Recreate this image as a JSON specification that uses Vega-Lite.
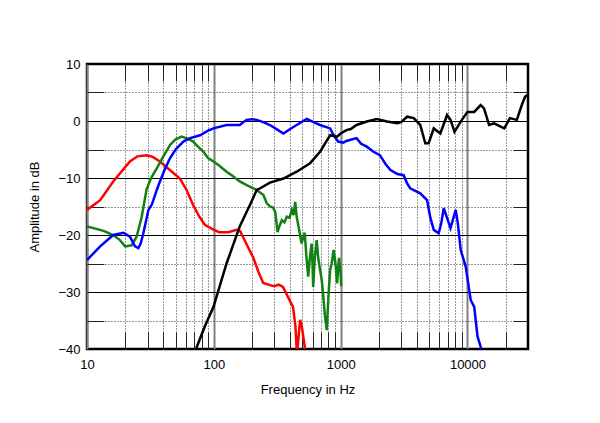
{
  "$schema": "https://vega.github.io/schema/vega-lite/v6.json",
  "width": 441,
  "height": 285,
  "autosize": {"type": "none"},
  "padding": {"left": 87, "top": 64, "right": 72, "bottom": 74},
  "background": "white",
  "config": {
    "view": {"stroke": "black", "strokeWidth": 2.5},
    "font": "Liberation Sans",
    "axis": {"labelFont": "Liberation Sans", "titleFont": "Liberation Sans", "labelFontSize": 13, "titleFontSize": 13, "labelColor": "black", "titleColor": "black", "titleFontWeight": "normal", "labelFlush": false, "labelOverlap": false}
  },
  "data": {"values": [
    {"s":"red","f":10,"db":-15.6},{"s":"red","f":12.7,"db":-13.9},{"s":"red","f":16.1,"db":-10.6},{"s":"red","f":21.8,"db":-7.1},{"s":"red","f":25,"db":-6.2},{"s":"red","f":29.6,"db":-6.0},{"s":"red","f":33,"db":-6.3},{"s":"red","f":37.6,"db":-7.1},{"s":"red","f":45,"db":-8.6},{"s":"red","f":54,"db":-10.1},{"s":"red","f":61,"db":-12.1},{"s":"red","f":68.5,"db":-14.7},{"s":"red","f":77,"db":-16.8},{"s":"red","f":85,"db":-18.2},{"s":"red","f":100,"db":-19.1},{"s":"red","f":110,"db":-19.5},{"s":"red","f":130,"db":-19.5},{"s":"red","f":151,"db":-19.1},{"s":"red","f":161,"db":-19.3},{"s":"red","f":180,"db":-21.5},{"s":"red","f":204,"db":-23.9},{"s":"red","f":225,"db":-26.5},{"s":"red","f":245,"db":-28.4},{"s":"red","f":277,"db":-28.8},{"s":"red","f":300,"db":-29.0},{"s":"red","f":325,"db":-28.7},{"s":"red","f":351,"db":-29.1},{"s":"red","f":385,"db":-30.9},{"s":"red","f":421,"db":-32.6},{"s":"red","f":440,"db":-36},{"s":"red","f":452,"db":-41},{"s":"red","f":465,"db":-38},{"s":"red","f":479,"db":-34.9},{"s":"red","f":490,"db":-35.5},{"s":"red","f":521,"db":-39.6},{"s":"red","f":535,"db":-42},
    {"s":"green","f":10,"db":-18.5},{"s":"green","f":12.7,"db":-19.1},{"s":"green","f":14,"db":-19.4},{"s":"green","f":16,"db":-20},{"s":"green","f":18,"db":-20.8},{"s":"green","f":20,"db":-22},{"s":"green","f":22.5,"db":-21.8},{"s":"green","f":24.6,"db":-20.3},{"s":"green","f":27,"db":-16.8},{"s":"green","f":29.5,"db":-12},{"s":"green","f":32,"db":-10},{"s":"green","f":35.5,"db":-8.3},{"s":"green","f":40,"db":-6.2},{"s":"green","f":45.2,"db":-4.2},{"s":"green","f":50,"db":-3.2},{"s":"green","f":55.7,"db":-2.75},{"s":"green","f":62,"db":-3.1},{"s":"green","f":68.7,"db":-3.6},{"s":"green","f":75,"db":-4.5},{"s":"green","f":82.8,"db":-5.4},{"s":"green","f":90,"db":-6.5},{"s":"green","f":99.4,"db":-7.1},{"s":"green","f":110,"db":-7.8},{"s":"green","f":126,"db":-8.9},{"s":"green","f":140,"db":-9.6},{"s":"green","f":160,"db":-10.6},{"s":"green","f":180,"db":-11.2},{"s":"green","f":205,"db":-11.8},{"s":"green","f":218,"db":-12.1},{"s":"green","f":246,"db":-13.0},{"s":"green","f":261,"db":-14.4},{"s":"green","f":277,"db":-15},{"s":"green","f":294,"db":-15.2},{"s":"green","f":305,"db":-16},{"s":"green","f":318,"db":-19.5},{"s":"green","f":328,"db":-18.5},{"s":"green","f":344,"db":-17.4},{"s":"green","f":360,"db":-17.8},{"s":"green","f":376,"db":-16.8},{"s":"green","f":395,"db":-17},{"s":"green","f":412,"db":-15.6},{"s":"green","f":425,"db":-16.5},{"s":"green","f":438,"db":-14.2},{"s":"green","f":450,"db":-16.8},{"s":"green","f":470,"db":-19},{"s":"green","f":492,"db":-21.5},{"s":"green","f":505,"db":-20.5},{"s":"green","f":521,"db":-19.6},{"s":"green","f":538,"db":-24},{"s":"green","f":555,"db":-27.3},{"s":"green","f":572,"db":-24},{"s":"green","f":590,"db":-21.5},{"s":"green","f":600,"db":-25},{"s":"green","f":607,"db":-29.1},{"s":"green","f":625,"db":-24},{"s":"green","f":647,"db":-20.9},{"s":"green","f":665,"db":-24},{"s":"green","f":688,"db":-26.1},{"s":"green","f":710,"db":-28},{"s":"green","f":730,"db":-30.8},{"s":"green","f":750,"db":-34},{"s":"green","f":777,"db":-36.7},{"s":"green","f":800,"db":-31},{"s":"green","f":826,"db":-26.1},{"s":"green","f":850,"db":-25},{"s":"green","f":880,"db":-22.6},{"s":"green","f":910,"db":-25},{"s":"green","f":937,"db":-28.5},{"s":"green","f":970,"db":-24},{"s":"green","f":1000,"db":-26.7},{"s":"green","f":1010,"db":-29},
    {"s":"blue","f":10,"db":-24.4},{"s":"blue","f":12.7,"db":-22},{"s":"blue","f":16.1,"db":-20},{"s":"blue","f":19.4,"db":-19.6},{"s":"blue","f":21.8,"db":-20.3},{"s":"blue","f":23.9,"db":-22},{"s":"blue","f":25.4,"db":-22.3},{"s":"blue","f":26.5,"db":-21.5},{"s":"blue","f":27.8,"db":-19.7},{"s":"blue","f":30.5,"db":-15.6},{"s":"blue","f":32.4,"db":-14.7},{"s":"blue","f":35.5,"db":-12.1},{"s":"blue","f":37.6,"db":-10.6},{"s":"blue","f":41,"db":-8.5},{"s":"blue","f":45.2,"db":-6.5},{"s":"blue","f":50,"db":-5},{"s":"blue","f":57.5,"db":-3.6},{"s":"blue","f":65,"db":-3.0},{"s":"blue","f":78,"db":-2.5},{"s":"blue","f":90,"db":-1.7},{"s":"blue","f":99.4,"db":-1.3},{"s":"blue","f":126,"db":-0.7},{"s":"blue","f":160,"db":-0.7},{"s":"blue","f":181,"db":0.2},{"s":"blue","f":200,"db":0.3},{"s":"blue","f":218,"db":0.2},{"s":"blue","f":245,"db":-0.2},{"s":"blue","f":277,"db":-0.7},{"s":"blue","f":321,"db":-1.6},{"s":"blue","f":354,"db":-2.2},{"s":"blue","f":400,"db":-1.4},{"s":"blue","f":450,"db":-0.7},{"s":"blue","f":541,"db":0.35},{"s":"blue","f":600,"db":-0.1},{"s":"blue","f":688,"db":-0.7},{"s":"blue","f":826,"db":-1.3},{"s":"blue","f":880,"db":-2.5},{"s":"blue","f":955,"db":-3.6},{"s":"blue","f":1050,"db":-3.8},{"s":"blue","f":1111,"db":-3.5},{"s":"blue","f":1200,"db":-3.3},{"s":"blue","f":1335,"db":-3.0},{"s":"blue","f":1450,"db":-4},{"s":"blue","f":1607,"db":-4.5},{"s":"blue","f":1815,"db":-5.4},{"s":"blue","f":2040,"db":-6},{"s":"blue","f":2250,"db":-7.5},{"s":"blue","f":2470,"db":-8.6},{"s":"blue","f":2800,"db":-9.3},{"s":"blue","f":3140,"db":-9.5},{"s":"blue","f":3350,"db":-11},{"s":"blue","f":3530,"db":-11.8},{"s":"blue","f":4240,"db":-12.7},{"s":"blue","f":4800,"db":-13.9},{"s":"blue","f":5100,"db":-17},{"s":"blue","f":5420,"db":-19.1},{"s":"blue","f":5930,"db":-19.7},{"s":"blue","f":6200,"db":-18},{"s":"blue","f":6500,"db":-15.3},{"s":"blue","f":6900,"db":-17},{"s":"blue","f":7350,"db":-18.8},{"s":"blue","f":8070,"db":-15.6},{"s":"blue","f":8400,"db":-18},{"s":"blue","f":8840,"db":-22.6},{"s":"blue","f":9690,"db":-25.6},{"s":"blue","f":10600,"db":-31.4},{"s":"blue","f":11300,"db":-32.6},{"s":"blue","f":12000,"db":-37.8},{"s":"blue","f":12700,"db":-39.6},{"s":"blue","f":13300,"db":-42},
    {"s":"black","f":70,"db":-42},{"s":"black","f":73.5,"db":-39.6},{"s":"black","f":85,"db":-36},{"s":"black","f":99.4,"db":-32.6},{"s":"black","f":126,"db":-25},{"s":"black","f":160,"db":-18.5},{"s":"black","f":193,"db":-14.7},{"s":"black","f":218,"db":-12.1},{"s":"black","f":232,"db":-11.8},{"s":"black","f":277,"db":-10.8},{"s":"black","f":354,"db":-10.1},{"s":"black","f":450,"db":-8.9},{"s":"black","f":574,"db":-7.4},{"s":"black","f":688,"db":-5.4},{"s":"black","f":760,"db":-3.8},{"s":"black","f":826,"db":-2.5},{"s":"black","f":937,"db":-2.75},{"s":"black","f":1000,"db":-2.2},{"s":"black","f":1111,"db":-1.6},{"s":"black","f":1200,"db":-1.4},{"s":"black","f":1335,"db":-0.7},{"s":"black","f":1607,"db":-0.1},{"s":"black","f":1930,"db":0.35},{"s":"black","f":2320,"db":-0.1},{"s":"black","f":2790,"db":-0.4},{"s":"black","f":3000,"db":-0.2},{"s":"black","f":3340,"db":0.75},{"s":"black","f":3770,"db":0.5},{"s":"black","f":4240,"db":-0.7},{"s":"black","f":4650,"db":-3.9},{"s":"black","f":4940,"db":-3.9},{"s":"black","f":5420,"db":-1.3},{"s":"black","f":6110,"db":-2.2},{"s":"black","f":6900,"db":1.05},{"s":"black","f":7350,"db":0.2},{"s":"black","f":7900,"db":-1.9},{"s":"black","f":8840,"db":-0.1},{"s":"black","f":9990,"db":1.6},{"s":"black","f":11300,"db":1.6},{"s":"black","f":12700,"db":2.8},{"s":"black","f":13500,"db":2.2},{"s":"black","f":14800,"db":-0.7},{"s":"black","f":16200,"db":-0.4},{"s":"black","f":19500,"db":-1.3},{"s":"black","f":21600,"db":0.5},{"s":"black","f":24500,"db":0.2},{"s":"black","f":26800,"db":2.8},{"s":"black","f":28500,"db":4.3},{"s":"black","f":30000,"db":4.6}
  ]},
  "resolve": {"axis": {"x": "independent", "y": "independent"}},
  "layer": [
    {
      "mark": {"type": "point", "opacity": 0},
      "encoding": {
        "x": {"field": "f", "type": "quantitative", "scale": {"type": "log", "domain": [10, 30000], "nice": false},
          "axis": {"orient": "bottom", "values": [20,30,40,50,60,70,80,90,200,300,400,500,600,700,800,900,2000,3000,4000,5000,6000,7000,8000,9000,20000], "labels": false, "title": null, "domain": false, "ticks": true, "tickSize": -17, "tickColor": "#222", "tickWidth": 1, "grid": true, "gridColor": "#333", "gridDash": [1, 2], "gridWidth": 1}},
        "y": {"field": "db", "type": "quantitative", "scale": {"domain": [-40, 10], "nice": false, "zero": false},
          "axis": {"orient": "left", "values": [5,-5,-15,-25,-35], "labels": false, "title": null, "domain": false, "ticks": true, "tickSize": -17, "tickColor": "#222", "grid": true, "gridColor": "#333", "gridDash": [1, 2], "gridWidth": 1}}
      }
    },
    {
      "mark": {"type": "point", "opacity": 0},
      "encoding": {
        "x": {"field": "f", "type": "quantitative", "scale": {"type": "log", "domain": [10, 30000], "nice": false},
          "axis": {"orient": "top", "values": [20,30,40,50,60,70,80,90,200,300,400,500,600,700,800,900,2000,3000,4000,5000,6000,7000,8000,9000,20000], "labels": false, "title": null, "domain": false, "ticks": true, "tickSize": -17, "tickColor": "#222", "grid": false}},
        "y": {"field": "db", "type": "quantitative", "scale": {"domain": [-40, 10], "nice": false, "zero": false},
          "axis": {"orient": "right", "values": [5,-5,-15,-25,-35], "labels": false, "title": null, "domain": false, "ticks": true, "tickSize": -15, "tickColor": "#222", "grid": false}}
      }
    },
    {
      "mark": {"type": "line", "strokeWidth": 2.5, "clip": true},
      "encoding": {
        "x": {"field": "f", "type": "quantitative", "scale": {"type": "log", "domain": [10, 30000], "nice": false},
          "axis": {"orient": "bottom", "values": [10, 100, 1000, 10000], "format": "d", "title": "Frequency in Hz", "domain": false, "ticks": false, "labelPadding": 9, "titlePadding": 12, "grid": true, "gridColor": "#808080", "gridWidth": 2}},
        "y": {"field": "db", "type": "quantitative", "scale": {"domain": [-40, 10], "nice": false, "zero": false},
          "axis": {"orient": "left", "values": [10, 0, -10, -20, -30, -40], "title": "Amplitude in dB", "domain": false, "ticks": false, "labelPadding": 7, "titlePadding": 16, "grid": true, "gridColor": "black", "gridWidth": 1}},
        "color": {"field": "s", "type": "nominal", "legend": null, "scale": {"domain": ["red", "green", "blue", "black"], "range": ["#ff0000", "#128012", "#0000ff", "#000000"]}},
        "order": {"field": "f", "type": "quantitative"}
      }
    }
  ]
}
